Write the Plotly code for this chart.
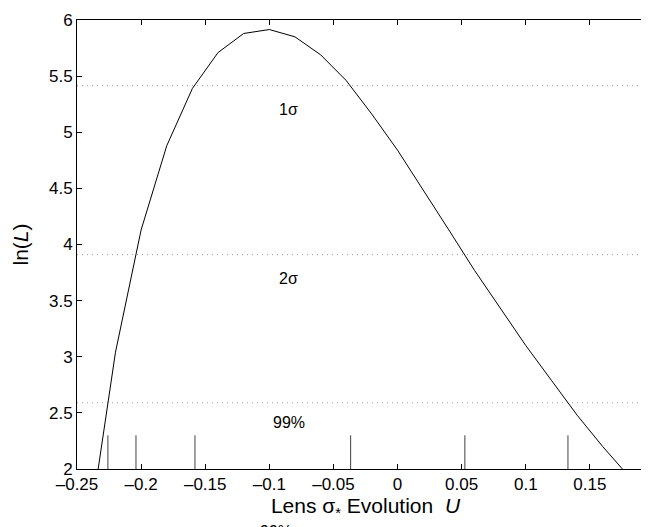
import plotly.graph_objects as go

# Likelihood curve (sampled every 0.02 in U)
u_vals = [-0.24, -0.22, -0.20, -0.18, -0.16, -0.14, -0.12, -0.10, -0.08, -0.06, -0.04,
          -0.02, 0.00, 0.02, 0.04, 0.06, 0.08, 0.10, 0.12, 0.14, 0.16, 0.18]
lnL_vals = [1.50, 3.04, 4.13, 4.88, 5.39, 5.71, 5.88, 5.915, 5.85, 5.69, 5.46,
            5.16, 4.84, 4.49, 4.13, 3.77, 3.43, 3.10, 2.79, 2.48, 2.20, 1.94]

# Confidence levels
level_names = ["1σ", "2σ", "99%"]
level_values = [5.415, 3.91, 2.59]
label_u = -0.085
label_lnL = [5.20, 3.70, 2.41]

# Interval end markers (crossings of the curve with the levels)
crossing_u = [-0.2259, -0.204, -0.158, -0.0366, 0.0525, 0.1329]
marker_bottom = 2.0
marker_top = 2.3

# Axis ticks
x_ticks = [-0.25, -0.2, -0.15, -0.1, -0.05, 0, 0.05, 0.1, 0.15]
x_ticktext = ["–0.25", "–0.2", "–0.15", "–0.1", "–0.05", "0", "0.05", "0.1", "0.15"]
y_ticks = [2, 2.5, 3, 3.5, 4, 4.5, 5, 5.5, 6]
y_ticktext = ["2", "2.5", "3", "3.5", "4", "4.5", "5", "5.5", "6"]

FONT = "Liberation Sans, Arial, Helvetica, sans-serif"

fig = go.Figure()

# dotted level lines
for v in level_values:
    fig.add_trace(go.Scatter(
        x=[-0.25, 0.2], y=[v, v], mode="lines",
        line=dict(color="#9a9a9a", width=1, dash="1px,4px"),
        hoverinfo="skip", showlegend=False))

# vertical markers
bx, by = [], []
for u in crossing_u:
    bx += [u, u, None]
    by += [marker_bottom, marker_top, None]
fig.add_trace(go.Scatter(x=bx, y=by, mode="lines",
                         line=dict(color="#404040", width=1),
                         hoverinfo="skip", showlegend=False))

# curve
fig.add_trace(go.Scatter(x=u_vals, y=lnL_vals, mode="lines",
                         line=dict(color="black", width=1),
                         showlegend=False))

# level labels
for name, yy in zip(level_names, label_lnL):
    fig.add_annotation(x=label_u, y=yy, text=name, showarrow=False,
                       font=dict(family=FONT, size=16, color="black"))

# stray label below the axes (mostly cut off at page bottom)
fig.add_annotation(x=-0.095, xref="x", y=-0.14, yref="paper", text="99%",
                   showarrow=False, yanchor="middle",
                   font=dict(family=FONT, size=16, color="black"))

fig.update_layout(
    width=649, height=527,
    margin=dict(l=69, r=3, t=12, b=66),
    paper_bgcolor="white", plot_bgcolor="white",
    font=dict(family=FONT, size=17, color="black"),
    showlegend=False,
)
fig.update_xaxes(
    range=[-0.25, 0.2], tickvals=x_ticks, ticktext=x_ticktext,
    ticks="inside", ticklen=5, tickcolor="black", tickwidth=1,
    showline=True, linecolor="black", linewidth=1, mirror="ticks",
    showgrid=False, zeroline=False,
    tickfont=dict(family=FONT, size=17),
    title=dict(text="Lens σ<sub>*</sub> Evolution  <i>U</i>",
               font=dict(family=FONT, size=21), standoff=4),
)
fig.update_yaxes(
    range=[2, 6], tickvals=y_ticks, ticktext=y_ticktext,
    ticks="inside", ticklen=5, tickcolor="black", tickwidth=1,
    showline=True, linecolor="black", linewidth=1, mirror="ticks",
    showgrid=False, zeroline=False,
    tickfont=dict(family=FONT, size=17),
    title=dict(text="ln(<i>L</i>)", font=dict(family=FONT, size=21), standoff=14),
)

fig.write_html("out.html")
